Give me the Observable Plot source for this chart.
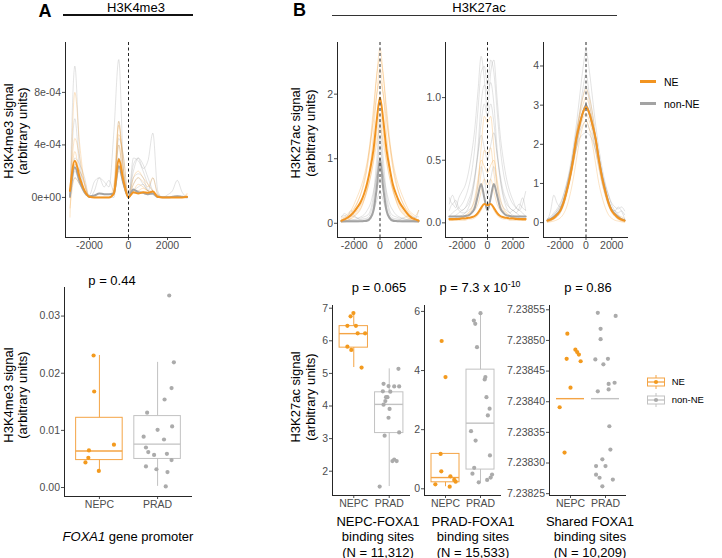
<!DOCTYPE html>
<html><head><meta charset="utf-8">
<script src="https://cdn.jsdelivr.net/npm/d3@7"></script>
<script src="https://cdn.jsdelivr.net/npm/@observablehq/plot@0.6"></script>
<style>
body{margin:0;background:#fff;font-family:"Liberation Sans",Arial,Helvetica,sans-serif;}
#fig{position:relative;width:722px;height:558px;overflow:hidden;background:#fff;}
.t{position:absolute;white-space:nowrap;color:#000;}
.t sup{font-size:0.68em;line-height:0;vertical-align:0.55em;}
</style></head><body><div id="fig"></div><script>
// ---------------- DATA ----------------
const GROUPS = ["NE", "non-NE"];
const CATS = ["NEPC", "PRAD"];
const X_TICKS = [-2000, 0, 2000];
const X_LABELS = ["-2000", "0", "2000"];
const PROF_X = [-3000,-2750,-2500,-2250,-2000,-1750,-1500,-1250,-1000,-750,-500,-250,0,250,500,750,1000,1250,1500,1750,2000,2250,2500,2750,3000];

// Panel A top: H3K4me3 profiles (units of 1e-4)
const K4_Y_TICKS = [0, 4, 8];
const K4_Y_LABELS = ["0e+00", "4e-04", "8e-04"];
const K4_NE_MEAN  = [0.5,2.8,1.5,0.5,0.05,0,0,0,0,0.3,2.9,1.2,0,0.4,0.3,0.4,0.35,0.45,0.05,0,0,0,0,0,0.05];
const K4_NON_MEAN = [0.1,2.3,1.2,0.4,0.1,0.15,0.3,0.25,0.25,0.3,2.4,1.0,0.05,0.6,0.4,0.35,0.25,0.3,0.05,0.02,0.02,0.05,0.1,0.05,0.02];
const K4_NE_SAMPLES = [
  [-1.5,8,4,1,0,0,0,0,0,0.3,5.5,1.5,0,1,1.5,1.2,0.8,1.5,0.2,0,0,0,0,0,0.2],
  [0,4.5,3,1,0,0,0,0,0,1,5.8,2,0,1.5,2,1.5,1,0.5,0,0,0,0,0,0,0],
  [0.5,2.5,2,1.2,0,0,0,0,0,0.5,4,1,0,0.5,0.5,0.3,0.2,0.5,0,0,0,0,0,0,0.3],
  [-0.8,1.5,1,0.4,0,0,0,0,0,0.2,2,1,0,0.3,0.5,0.7,0.5,0.5,0,0,0,0,0,0,0],
  [0,3.5,1.5,0.3,0,0,0,0,0,0.5,4.8,3,0,0.5,1,0.8,0.5,0.3,0,0,0,0,0,0,0]
];
const K4_NON_SAMPLES = [
  [0,10,3,0.5,0,0,0,0,0,0.2,4,1,0,1,1.5,1,0.5,0.3,0,0,0,0,0,0,0],
  [0,2,1,0.3,0,0.5,1.5,1.2,0.8,5,10.5,2,0,2.5,3,2.5,1.5,0.5,0,0,0,0,0,0,0],
  [0,3,2.5,1.5,0,0,0,0,0,0.5,5.8,2,0.2,2,3,2.2,2.8,4.9,0.5,0,0,0,0,0,0],
  [0,1.5,1,0.5,0.2,1.2,1.5,0.8,1.3,0.5,3,1,0,1.5,1.8,1.5,0.5,0.2,0,0,0.2,0.5,1.3,0.4,0],
  [0,2.5,2,1,0,0,0,0,0,0.5,4.5,3,0,3,2.8,2,1,0.5,0.2,0,0,0,0,0,0],
  [0.2,6,2,0.5,0,0,0,0,0,0,3,1.5,0,0.5,0.8,1,0.5,1.5,0.3,0,0,0,0,0,0]
];

// Panel B top-1: NEPC-FOXA1 sites
const B1P_Y_TICKS = [0, 1, 2];
const B1P_Y_LABELS = ["0", "1", "2"];
const B1P_NE_MEAN  = [0.04,0.06,0.09,0.13,0.18,0.25,0.33,0.45,0.62,0.85,1.15,1.6,1.95,1.6,1.15,0.85,0.6,0.45,0.33,0.25,0.18,0.12,0.08,0.06,0.04];
const B1P_NON_MEAN = [0.03,0.03,0.03,0.03,0.03,0.03,0.03,0.035,0.04,0.08,0.2,0.55,1.0,0.55,0.2,0.08,0.04,0.035,0.03,0.03,0.03,0.03,0.03,0.03,0.03];
const B1P_NE_SAMPLES = [
  [0.05,0.08,0.12,0.17,0.24,0.33,0.45,0.6,0.85,1.2,1.7,2.3,2.7,2.3,1.7,1.2,0.85,0.6,0.45,0.33,0.24,0.17,0.12,0.08,0.05],
  [0.02,0.03,0.05,0.07,0.1,0.15,0.22,0.35,0.55,0.9,1.4,2.0,2.4,2.0,1.4,0.9,0.55,0.35,0.22,0.15,0.1,0.07,0.05,0.03,0.02],
  [0.08,0.1,0.15,0.2,0.3,0.42,0.55,0.72,0.95,1.25,1.6,2.0,2.2,2.0,1.6,1.25,0.95,0.72,0.55,0.42,0.3,0.2,0.15,0.12,0.2],
  [0.03,0.05,0.07,0.1,0.14,0.2,0.28,0.38,0.52,0.72,1.0,1.4,1.7,1.4,1.0,0.72,0.52,0.38,0.28,0.2,0.14,0.1,0.07,0.05,0.03],
  [0.02,0.03,0.05,0.08,0.12,0.17,0.24,0.35,0.5,0.7,0.95,1.25,1.5,1.25,0.95,0.7,0.5,0.35,0.24,0.17,0.12,0.08,0.05,0.03,0.02],
  [0.04,0.06,0.1,0.15,0.22,0.32,0.45,0.65,0.9,1.3,1.8,2.3,2.55,2.3,1.8,1.3,0.9,0.65,0.45,0.32,0.22,0.15,0.1,0.06,0.04]
];
const B1P_NON_SAMPLES = [
  [0.05,0.08,0.1,0.12,0.1,0.08,0.08,0.1,0.12,0.2,0.45,1.0,1.6,1.0,0.45,0.2,0.12,0.1,0.08,0.08,0.1,0.12,0.1,0.08,0.2],
  [0.1,0.12,0.08,0.05,0.05,0.05,0.06,0.07,0.08,0.15,0.35,0.75,1.2,0.75,0.35,0.15,0.08,0.07,0.06,0.05,0.05,0.06,0.08,0.1,0.1],
  [0.03,0.03,0.04,0.05,0.06,0.07,0.1,0.13,0.2,0.3,0.5,0.75,0.9,0.75,0.5,0.3,0.2,0.13,0.1,0.07,0.06,0.05,0.04,0.03,0.03],
  [0.02,0.02,0.02,0.02,0.02,0.02,0.03,0.04,0.05,0.1,0.25,0.5,0.7,0.5,0.25,0.1,0.05,0.04,0.03,0.02,0.02,0.02,0.02,0.02,0.02],
  [0.1,0.15,0.12,0.2,0.12,0.08,0.05,0.05,0.06,0.1,0.2,0.35,0.5,0.35,0.2,0.1,0.06,0.05,0.05,0.08,0.06,0.05,0.04,0.05,0.06],
  [0.02,0.02,0.03,0.03,0.03,0.03,0.03,0.04,0.05,0.08,0.25,0.8,1.35,0.8,0.25,0.08,0.05,0.04,0.03,0.03,0.03,0.03,0.03,0.02,0.02]
];

// Panel B top-2: PRAD-FOXA1 sites
const B2P_Y_TICKS = [0, 0.5, 1];
const B2P_Y_LABELS = ["0.0", "0.5", "1.0"];
const B2P_NE_MEAN  = [0.03,0.03,0.03,0.03,0.035,0.035,0.04,0.045,0.055,0.08,0.12,0.15,0.14,0.15,0.12,0.08,0.055,0.045,0.04,0.035,0.035,0.03,0.03,0.03,0.03];
const B2P_NON_MEAN = [0.05,0.05,0.05,0.05,0.05,0.055,0.06,0.08,0.12,0.22,0.31,0.2,0.1,0.2,0.31,0.22,0.12,0.08,0.06,0.055,0.05,0.05,0.05,0.05,0.05];
const B2P_NE_SAMPLES = [
  [0.02,0.02,0.02,0.03,0.04,0.05,0.07,0.1,0.15,0.3,0.6,0.85,0.8,0.85,0.6,0.3,0.15,0.1,0.07,0.05,0.04,0.03,0.02,0.02,0.02],
  [0.02,0.02,0.03,0.03,0.04,0.05,0.06,0.08,0.12,0.22,0.4,0.58,0.55,0.6,0.4,0.22,0.12,0.08,0.06,0.05,0.04,0.03,0.03,0.02,0.02],
  [0.03,0.03,0.03,0.04,0.04,0.05,0.06,0.08,0.1,0.15,0.25,0.35,0.3,0.35,0.25,0.15,0.1,0.08,0.06,0.05,0.04,0.04,0.03,0.03,0.03],
  [0.02,0.02,0.02,0.02,0.02,0.02,0.03,0.03,0.04,0.06,0.1,0.15,0.12,0.15,0.1,0.06,0.04,0.03,0.03,0.02,0.02,0.02,0.02,0.02,0.02],
  [0.03,0.03,0.03,0.04,0.05,0.06,0.08,0.12,0.2,0.35,0.5,0.45,0.4,0.46,0.5,0.35,0.2,0.12,0.08,0.06,0.05,0.04,0.03,0.03,0.03]
];
const B2P_NON_SAMPLES = [
  [0.1,0.15,0.12,0.2,0.25,0.3,0.4,0.55,0.75,1.05,1.33,1.15,0.9,1.2,1.3,1.0,0.7,0.5,0.35,0.25,0.18,0.12,0.1,0.15,0.25],
  [0.05,0.08,0.1,0.12,0.15,0.2,0.28,0.4,0.6,0.9,1.2,1.25,1.1,1.3,1.2,0.9,0.6,0.4,0.28,0.2,0.15,0.12,0.1,0.08,0.05],
  [0.2,0.15,0.18,0.12,0.1,0.12,0.15,0.22,0.35,0.55,0.8,0.95,0.85,0.95,0.8,0.55,0.35,0.22,0.15,0.12,0.1,0.12,0.15,0.12,0.1],
  [0.05,0.05,0.06,0.08,0.1,0.12,0.18,0.25,0.38,0.55,0.7,0.6,0.5,0.62,0.72,0.55,0.38,0.25,0.18,0.12,0.1,0.08,0.06,0.05,0.05],
  [0.15,0.22,0.15,0.1,0.08,0.08,0.1,0.12,0.18,0.3,0.45,0.35,0.2,0.35,0.45,0.3,0.18,0.12,0.1,0.08,0.1,0.08,0.12,0.2,0.1],
  [0.03,0.03,0.04,0.05,0.06,0.08,0.12,0.2,0.35,0.6,0.95,1.1,1.05,1.12,0.95,0.6,0.35,0.2,0.12,0.08,0.06,0.05,0.04,0.03,0.03]
];

// Panel B top-3: shared FOXA1 sites
const B3P_Y_TICKS = [0, 1, 2, 3, 4];
const B3P_Y_LABELS = ["0", "1", "2", "3", "4"];
const B3P_NE_MEAN  = [0.05,0.08,0.12,0.2,0.3,0.5,0.8,1.15,1.6,2.15,2.5,2.8,2.95,2.8,2.5,2.15,1.6,1.15,0.8,0.5,0.3,0.2,0.12,0.08,0.05];
const B3P_NON_MEAN = [0.06,0.09,0.14,0.22,0.32,0.52,0.82,1.18,1.62,2.1,2.5,2.8,3.0,2.8,2.5,2.1,1.62,1.18,0.82,0.52,0.32,0.22,0.14,0.09,0.06];
const B3P_NE_SAMPLES = [
  [0.03,0.06,0.1,0.18,0.3,0.5,0.8,1.2,1.7,2.3,2.8,3.2,3.4,3.2,2.8,2.2,1.6,1.1,0.75,0.45,0.28,0.18,0.1,0.06,0.03],
  [0.05,0.1,0.15,0.25,0.38,0.6,0.9,1.3,1.75,2.25,2.7,3.0,3.2,3.0,2.6,2.1,1.6,1.15,0.8,0.55,0.35,0.25,0.18,0.15,0.1],
  [0.02,0.04,0.08,0.15,0.25,0.42,0.7,1.05,1.45,1.9,2.35,2.65,2.8,2.6,2.3,1.85,1.4,1.0,0.68,0.42,0.25,0.15,0.08,0.04,0.02],
  [0.01,0.02,0.04,0.07,0.12,0.22,0.4,0.7,1.1,1.6,2.1,2.45,2.6,2.4,2.0,1.5,1.0,0.65,0.38,0.2,0.11,0.06,0.04,0.02,0.01]
];
const B3P_NON_SAMPLES = [
  [0.05,0.1,0.2,0.3,0.45,0.7,1.0,1.4,1.9,2.5,3.2,3.9,4.4,3.9,3.2,2.5,1.9,1.4,1.0,0.7,0.45,0.3,0.2,0.1,0.05],
  [0.05,0.3,0.7,0.5,0.4,0.6,0.9,1.3,1.8,2.3,2.8,3.4,3.8,3.3,2.8,2.2,1.7,1.2,0.8,0.5,0.35,0.3,0.4,0.3,0.1],
  [0.1,0.12,0.2,0.3,0.4,0.55,0.85,1.2,1.7,2.2,2.7,3.2,3.5,3.1,2.6,2.1,1.6,1.1,0.75,0.5,0.35,0.3,0.25,0.3,0.2],
  [0.02,0.05,0.1,0.15,0.25,0.45,0.75,1.1,1.5,1.9,2.3,2.5,2.6,2.4,2.2,1.8,1.4,1.0,0.7,0.45,0.3,0.2,0.12,0.06,0.03],
  [0.1,0.15,0.25,0.35,0.5,0.7,1.0,1.3,1.6,1.9,2.15,2.25,2.3,2.25,2.1,1.85,1.55,1.25,0.95,0.7,0.5,0.4,0.35,0.4,0.3]
];

// Panel A bottom: H3K4me3 at FOXA1 promoter
const A_Y_TICKS = [0, 0.01, 0.02, 0.03];
const A_Y_LABELS = ["0.00", "0.01", "0.02", "0.03"];
const A_NEPC_VALS = [0.0231,0.0168,0.0075,0.0065,0.0052,0.0044,0.0029];
const A_NEPC_JIT  = [-0.1,-0.09,0.25,-0.18,-0.19,-0.24,-0.01];
const A_PRAD_VALS = [0.0336,0.0219,0.0174,0.0154,0.0131,0.0107,0.0101,0.0089,0.0084,0.0070,0.0062,0.0057,0.0059,0.0048,0.0037,0.0032,0.0027,0.0002];
const A_PRAD_JIT  = [0.2,0.28,0.24,0.12,-0.18,0.25,0,-0.24,0.11,-0.2,-0.16,-0.06,0.16,0.24,-0.2,-0.02,0.17,0.14];
// box stats: [lower whisker, q1, median, q3, upper whisker]
const A_BOX_NEPC = [0.0029, 0.0048, 0.0064, 0.0122, 0.0231];
const A_BOX_PRAD = [0.0002, 0.0050, 0.0076, 0.0125, 0.0219];

// Panel B bottom-1: NEPC-FOXA1 sites
const B1_Y_TICKS = [2, 3, 4, 5, 6, 7];
const B1_Y_LABELS = ["2", "3", "4", "5", "6", "7"];
const B1_NEPC_VALS = [6.85,6.75,6.46,6.46,6.23,6.23,5.82,5.72,5.18];
const B1_NEPC_JIT  = [-0.01,-0.09,-0.18,0.06,0.11,0.32,-0.18,-0.07,0.22];
const B1_PRAD_VALS = [5.14,4.68,4.6,4.6,4.61,4.45,4.44,4.27,4.27,4.15,3.91,4.04,3.64,3.09,3.19,2.36,2.31,2.31,1.53];
const B1_PRAD_JIT  = [0.26,-0.16,0.14,0.28,-0.02,-0.18,0.03,-0.09,-0.05,-0.11,0.01,-0.16,-0.02,-0.13,0.28,0.14,0.21,0.09,-0.27];
const B1_BOX_NEPC = [5.18, 5.79, 6.22, 6.45, 6.85];
const B1_BOX_PRAD = [1.53, 3.17, 4.05, 4.42, 5.14];

// Panel B bottom-2: PRAD-FOXA1 sites
const B2_Y_TICKS = [0, 2, 4, 6];
const B2_Y_LABELS = ["0", "2", "4", "6"];
const B2_NEPC_VALS = [5.0,3.78,1.18,0.59,0.15,0.42,0.3,0.24,0.07];
const B2_NEPC_JIT  = [-0.11,0,-0.14,-0.12,-0.29,0.14,0.25,0.29,0.12];
const B2_PRAD_VALS = [5.94,5.69,5.58,4.79,3.78,3.7,3.1,2.71,2.48,1.95,1.63,1.13,0.71,0.51,0.48,0.22,0.3,0.38];
const B2_PRAD_JIT  = [0,-0.19,-0.15,-0.1,0.14,0.12,0.17,0.26,0.21,-0.27,-0.14,0.27,-0.18,-0.23,0.33,-0.05,0.19,0.29];
const B2_BOX_NEPC = [0.07, 0.22, 0.38, 1.18, 1.18];
const B2_BOX_PRAD = [0.22, 0.65, 2.22, 4.03, 5.94];

// Panel B bottom-3: shared sites
const B3_Y_TICKS = [7.23825, 7.2383, 7.23835, 7.2384, 7.23845, 7.2385, 7.23855];
const B3_Y_LABELS = ["7.23825", "7.23830", "7.23835", "7.23840", "7.23845", "7.23850", "7.23855"];
const B3_NEPC_VALS = [7.238511,7.23847,7.238485,7.238481,7.238477,7.238466,7.238423,7.238391,7.238317];
const B3_NEPC_JIT  = [-0.09,-0.11,0.14,0.19,0.24,0.29,0,-0.31,-0.17];
const B3_PRAD_VALS = [7.238545,7.23854,7.238519,7.238502,7.238469,7.23847,7.238461,7.238429,7.238431,7.23842,7.238417,7.23836,7.238322,7.238306,7.238295,7.238295,7.238281,7.238276,7.238273,7.238262];
const B3_PRAD_JIT  = [-0.22,0.29,-0.14,-0.14,-0.29,0.07,-0.06,0.09,0.26,0.09,-0.22,0.11,0.14,-0.09,-0.27,0,-0.27,-0.17,0.21,-0.09];
const B3_MEDIANS = [7.238405, 7.238405];

// Text
const P_VALUES = ["p = 0.44", "p = 0.065", "p = 7.3 x 10<sup>-10</sup>", "p = 0.86"];
const CAPTIONS = ["<i>FOXA1</i> gene promoter",
  "NEPC-FOXA1<br>binding sites<br>(N = 11,312)",
  "PRAD-FOXA1<br>binding sites<br>(N = 15,533)",
  "Shared FOXA1<br>binding sites<br>(N = 10,209)"];

// ---------------- DRAWING ----------------
const fig = document.getElementById("fig");
const FONT = '"Liberation Sans", Arial, Helvetica, sans-serif';
const ORANGE = "#F39A1E", ORANGE_LINE = "#F29420", ORANGE_BOX = "#F4A445";
const GRAY = "#ABABAB", GRAY_LINE = "#A3A3A3", GRAY_BOX = "#C2C2C2";
const AXIS = "#262626";
const ML = 48, MR = 6, MT = 6, MB = 26;

function mount(svg, fx, fy) {
  svg.style.position = "absolute";
  svg.style.left = (fx - ML) + "px";
  svg.style.top = (fy - MT) + "px";
  svg.style.overflow = "visible";
  fig.appendChild(svg);
}
function toRows(arrs) {
  const rows = [];
  arrs.forEach((a, k) => a.forEach((v, i) => rows.push({x: PROF_X[i], y: v, id: k})));
  return rows;
}
function baseOpts(f) {
  return {
    width: ML + f.w + MR, height: MT + f.h + MB,
    marginLeft: ML, marginRight: MR, marginTop: MT, marginBottom: MB,
    style: {fontFamily: FONT, fontSize: "10.5px", color: "#4d4d4d", background: "transparent", overflow: "visible"}
  };
}
function profile(f, xd, yd, yTicks, yLabels, neS, nonS, neM, nonM) {
  const fy = new Map(yTicks.map((t, i) => [t, yLabels[i]]));
  const fx = new Map(X_TICKS.map((t, i) => [t, X_LABELS[i]]));
  const lineOpt = {x: "x", y: "y", z: "id", curve: "monotone-x"};
  const svg = Plot.plot({
    ...baseOpts(f),
    x: {domain: xd, ticks: X_TICKS, tickFormat: d => fx.get(d), tickSize: 3, tickPadding: 1.5, label: null},
    y: {domain: yd, ticks: yTicks, tickFormat: d => fy.get(d), tickSize: 3, tickPadding: 1.5, label: null},
    marks: [
      Plot.line(toRows(nonS), {...lineOpt, stroke: GRAY_LINE, strokeOpacity: 0.38, strokeWidth: 0.8}),
      Plot.line(toRows(neS), {...lineOpt, stroke: ORANGE_LINE, strokeOpacity: 0.32, strokeWidth: 0.8}),
      Plot.line(toRows([nonM]), {...lineOpt, stroke: GRAY_LINE, strokeWidth: 2}),
      Plot.line(toRows([neM]), {...lineOpt, stroke: ORANGE_LINE, strokeWidth: 2}),
      Plot.ruleX([0], {stroke: AXIS, strokeDasharray: "3,2.5", strokeWidth: 1}),
      Plot.ruleX([xd[0]], {stroke: AXIS, strokeWidth: 1}),
      Plot.ruleY([yd[0]], {stroke: AXIS, strokeWidth: 1})
    ]
  });
  mount(svg, f.x, f.y);
}
function boxPanel(f, yd, yTicks, yLabels, groups, medianOnly) {
  const fy = new Map(yTicks.map((t, i) => [t, yLabels[i]]));
  const fx = new Map([1, 2].map((t, i) => [t, CATS[i]]));
  const marks = [];
  groups.forEach(g => {
    const b = {cat: g.cat, lo: g.box[0], q1: g.box[1], med: g.box[2], q3: g.box[3], hi: g.box[4]};
    if (!medianOnly) {
      marks.push(Plot.ruleX([b], {x: "cat", y1: "q3", y2: "hi", stroke: g.boxColor, strokeWidth: 1}));
      marks.push(Plot.ruleX([b], {x: "cat", y1: "lo", y2: "q1", stroke: g.boxColor, strokeWidth: 1}));
      marks.push(Plot.rect([b], {x1: d => d.cat - 0.4, x2: d => d.cat + 0.4, y1: "q1", y2: "q3", fill: "none", stroke: g.boxColor, strokeWidth: 1}));
    }
    marks.push(Plot.ruleY([b], {y: "med", x1: d => d.cat - 0.4, x2: d => d.cat + 0.4, stroke: g.boxColor, strokeWidth: 1.4}));
    const pts = g.vals.map((v, i) => ({x: g.cat + g.jit[i], y: v}));
    marks.push(Plot.dot(pts, {x: "x", y: "y", r: 2.1, fill: g.color, stroke: "none"}));
  });
  marks.push(Plot.ruleX([0.4], {stroke: AXIS, strokeWidth: 1}));
  marks.push(Plot.ruleY([yd[0]], {stroke: AXIS, strokeWidth: 1}));
  const svg = Plot.plot({
    ...baseOpts(f),
    x: {domain: [0.4, 2.6], ticks: [1, 2], tickFormat: d => fx.get(d), tickSize: 3, tickPadding: 1.5, label: null},
    y: {domain: yd, ticks: yTicks, tickFormat: d => fy.get(d), tickSize: 3, tickPadding: 1.5, label: null},
    marks
  });
  mount(svg, f.x, f.y);
}
function grp(cat, vals, jit, box) {
  const ne = cat === 1;
  return {cat, vals, jit, box, color: ne ? ORANGE : GRAY, boxColor: ne ? ORANGE_BOX : GRAY_BOX};
}

// Top profiles
profile({x: 65, y: 42, w: 126, h: 195}, [-3230, 3230], [-3.05, 11.8], K4_Y_TICKS, K4_Y_LABELS,
  K4_NE_SAMPLES, K4_NON_SAMPLES, K4_NE_MEAN, K4_NON_MEAN);
profile({x: 337, y: 42, w: 85, h: 195}, [-3300, 3300], [-0.22, 2.8], B1P_Y_TICKS, B1P_Y_LABELS,
  B1P_NE_SAMPLES, B1P_NON_SAMPLES, B1P_NE_MEAN, B1P_NON_MEAN);
profile({x: 445, y: 42, w: 84, h: 195}, [-3300, 3300], [-0.117, 1.44], B2P_Y_TICKS, B2P_Y_LABELS,
  B2P_NE_SAMPLES, B2P_NON_SAMPLES, B2P_NE_MEAN, B2P_NON_MEAN);
profile({x: 543, y: 42, w: 85, h: 195}, [-3300, 3300], [-0.38, 4.6], B3P_Y_TICKS, B3P_Y_LABELS,
  B3P_NE_SAMPLES, B3P_NON_SAMPLES, B3P_NE_MEAN, B3P_NON_MEAN);

// Bottom boxplots
boxPanel({x: 64, y: 287, w: 128, h: 209}, [-0.00157, 0.035], A_Y_TICKS, A_Y_LABELS,
  [grp(1, A_NEPC_VALS, A_NEPC_JIT, A_BOX_NEPC), grp(2, A_PRAD_VALS, A_PRAD_JIT, A_BOX_PRAD)]);
boxPanel({x: 332, y: 305, w: 78, h: 190}, [1.255, 7.083], B1_Y_TICKS, B1_Y_LABELS,
  [grp(1, B1_NEPC_VALS, B1_NEPC_JIT, B1_BOX_NEPC), grp(2, B1_PRAD_VALS, B1_PRAD_JIT, B1_BOX_PRAD)]);
boxPanel({x: 424, y: 305, w: 77, h: 190}, [-0.227, 6.2], B2_Y_TICKS, B2_Y_LABELS,
  [grp(1, B2_NEPC_VALS, B2_NEPC_JIT, B2_BOX_NEPC), grp(2, B2_PRAD_VALS, B2_PRAD_JIT, B2_BOX_PRAD)]);
boxPanel({x: 549, y: 305, w: 77, h: 190}, [7.238247, 7.238557], B3_Y_TICKS, B3_Y_LABELS,
  [grp(1, B3_NEPC_VALS, B3_NEPC_JIT, Array(5).fill(B3_MEDIANS[0])),
   grp(2, B3_PRAD_VALS, B3_PRAD_JIT, Array(5).fill(B3_MEDIANS[1]))], true);

// ---------------- TEXT / DECORATION ----------------
function txt(html, x, y, o = {}) {
  const d = document.createElement("div");
  d.className = "t";
  d.innerHTML = html;
  d.style.left = x + "px";
  d.style.top = y + "px";
  d.style.fontSize = (o.size || 13) + "px";
  d.style.lineHeight = (o.lh || (o.size || 13)) + "px";
  d.style.textAlign = "center";
  if (o.bold) d.style.fontWeight = "bold";
  if (o.color) d.style.color = o.color;
  const ax = o.anchor === "start" ? "0" : "-50%";
  d.style.transform = `translate(${ax},-50%)` + (o.rotate ? ` rotate(${o.rotate}deg)` : "");
  fig.appendChild(d);
}
function hline(x1, x2, y, color, w) {
  const d = document.createElement("div");
  d.style.cssText = `position:absolute;left:${x1}px;top:${y - w / 2}px;width:${x2 - x1}px;height:${w}px;background:${color};`;
  fig.appendChild(d);
}

txt("A", 45, 11, {size: 18, bold: true});
txt("H3K4me3", 136, 6.5);
hline(63, 193, 15, "#111", 1.1);
txt("B", 299.5, 10, {size: 18, bold: true});
txt("H3K27ac", 479, 6.5);
hline(331.7, 616.7, 15.5, "#333", 1.1);

txt("H3K4me3 signal<br>(arbitrary units)", 15, 131, {rotate: -90, lh: 13.5});
txt("H3K4me3 signal<br>(arbitrary units)", 15, 395, {rotate: -90, lh: 13.5});
txt("H3K27ac signal<br>(arbitrary units)", 303, 133, {rotate: -90, lh: 14.5});
txt("H3K27ac signal<br>(arbitrary units)", 303, 396.5, {rotate: -90, lh: 14.5});

txt(P_VALUES[0], 112, 280);
txt(P_VALUES[1], 379, 287);
txt(P_VALUES[2], 480, 287);
txt(P_VALUES[3], 588, 287);

txt(CAPTIONS[0], 128, 535.5);
txt(CAPTIONS[1], 378, 536.5, {lh: 15.5});
txt(CAPTIONS[2], 473, 536.5, {lh: 15.5});
txt(CAPTIONS[3], 590, 536.5, {lh: 15.5});

// Top legend (lines)
hline(639.5, 656, 81.7, ORANGE_LINE, 2.6);
hline(639.5, 656, 103.3, GRAY_LINE, 2.6);
txt(GROUPS[0], 664, 82, {size: 10.5, anchor: "start"});
txt(GROUPS[1], 664, 103.5, {size: 10.5, anchor: "start"});

// Bottom legend (boxplot keys)
function boxKey(cx, cy, col, dot) {
  const ns = "http://www.w3.org/2000/svg";
  const s = document.createElementNS(ns, "svg");
  s.setAttribute("width", 22); s.setAttribute("height", 16);
  s.style.cssText = `position:absolute;left:${cx - 11}px;top:${cy - 8}px;`;
  s.innerHTML = `<line x1="11" y1="1" x2="11" y2="4" stroke="${col}"/>
    <line x1="11" y1="12" x2="11" y2="15" stroke="${col}"/>
    <rect x="2.5" y="4" width="17" height="8" fill="#fff" stroke="${col}"/>
    <line x1="2.5" y1="8" x2="19.5" y2="8" stroke="${col}" stroke-width="1.3"/>
    <circle cx="11" cy="8" r="2.1" fill="${dot}"/>`;
  fig.appendChild(s);
}
boxKey(655.5, 382, ORANGE_BOX, ORANGE);
boxKey(655.5, 399.5, GRAY_BOX, GRAY);
txt(GROUPS[0], 671.7, 382, {size: 9.5, anchor: "start"});
txt(GROUPS[1], 671.7, 399.5, {size: 9.5, anchor: "start"});
</script></body></html>
